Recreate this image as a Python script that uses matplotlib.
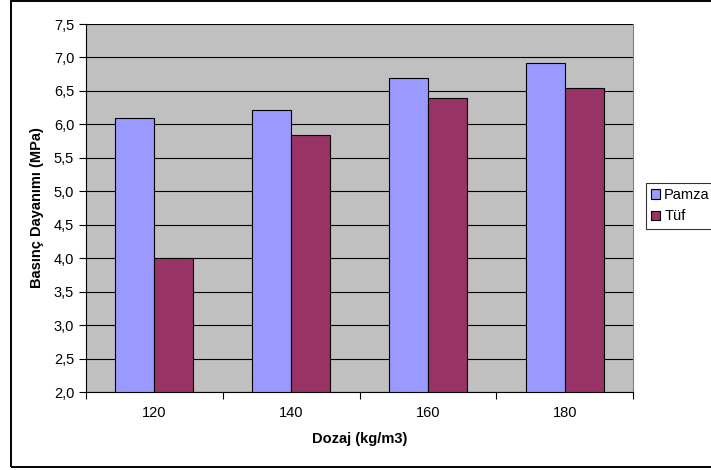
import numpy as np
import matplotlib.pyplot as plt
from matplotlib.patches import Rectangle, Patch
from matplotlib.ticker import FuncFormatter, MultipleLocator

plt.rcParams['font.family'] = ['Liberation Sans', 'DejaVu Sans']

dozaj = ['120', '140', '160', '180']
pamza = [6.09, 6.22, 6.70, 6.91]
tuf = [4.00, 5.84, 6.40, 6.54]

fig = plt.figure(figsize=(7.11, 4.70), dpi=100)
fig.patch.set_facecolor('white')

# outer chart border
fig.add_artist(Rectangle((11 / 711, 3 / 470), 1.2, 466 / 470, transform=fig.transFigure,
                         fill=False, edgecolor='black', linewidth=1.4))

ax = fig.add_axes([86 / 711, 78 / 470, 547 / 711, 368 / 470])
ax.set_facecolor('#c0c0c0')

x = np.arange(len(dozaj))
w = 0.285
ax.bar(x - w / 2, np.array(pamza) - 2, w, bottom=2, color='#9999ff',
       edgecolor='black', linewidth=0.8, zorder=3)
ax.bar(x + w / 2, np.array(tuf) - 2, w, bottom=2, color='#993366',
       edgecolor='black', linewidth=0.8, zorder=3)

ax.set_xlim(-0.5, 3.5)
ax.set_ylim(2.0, 7.5)
ax.yaxis.set_major_locator(MultipleLocator(0.5))
ax.yaxis.set_major_formatter(FuncFormatter(lambda v, p: f'{v:.1f}'.replace('.', ',')))
ax.grid(axis='y', color='black', linewidth=0.8, zorder=1)

ax.set_xticks(np.arange(-0.5, 4, 1))
ax.set_xticklabels([])
ax.set_xticks(x, minor=True)
ax.set_xticklabels(dozaj, minor=True)
ax.tick_params(axis='x', which='minor', length=0, pad=10, labelsize=10.5)
ax.tick_params(axis='x', which='major', length=5, direction='out')
ax.tick_params(axis='y', length=5, direction='out', labelsize=10.5)

ax.spines['top'].set_visible(False)
ax.spines['right'].set_color('#808080')
ax.spines['left'].set_color('black')
ax.spines['bottom'].set_color('black')

ax.set_xlabel('Dozaj (kg/m3)', fontsize=10.5, fontweight='bold', labelpad=9)
ax.set_ylabel('Basınç Dayanımı (MPa)', fontsize=10.5, fontweight='bold', labelpad=7)

handles = [Patch(facecolor='#9999ff', edgecolor='black', linewidth=0.8, label='Pamza'),
           Patch(facecolor='#993366', edgecolor='black', linewidth=0.8, label='Tüf')]
leg = fig.legend(handles=handles, loc='upper left', bbox_to_anchor=(646 / 711, 1 - 183 / 470),
                 fontsize=10.5, frameon=True, fancybox=False, edgecolor='black',
                 handlelength=0.6, handleheight=0.6, handletextpad=0.3,
                 borderpad=0.35, labelspacing=0.5, borderaxespad=0)
leg.get_frame().set_linewidth(0.8)

fig.savefig('out.png', dpi=100)
